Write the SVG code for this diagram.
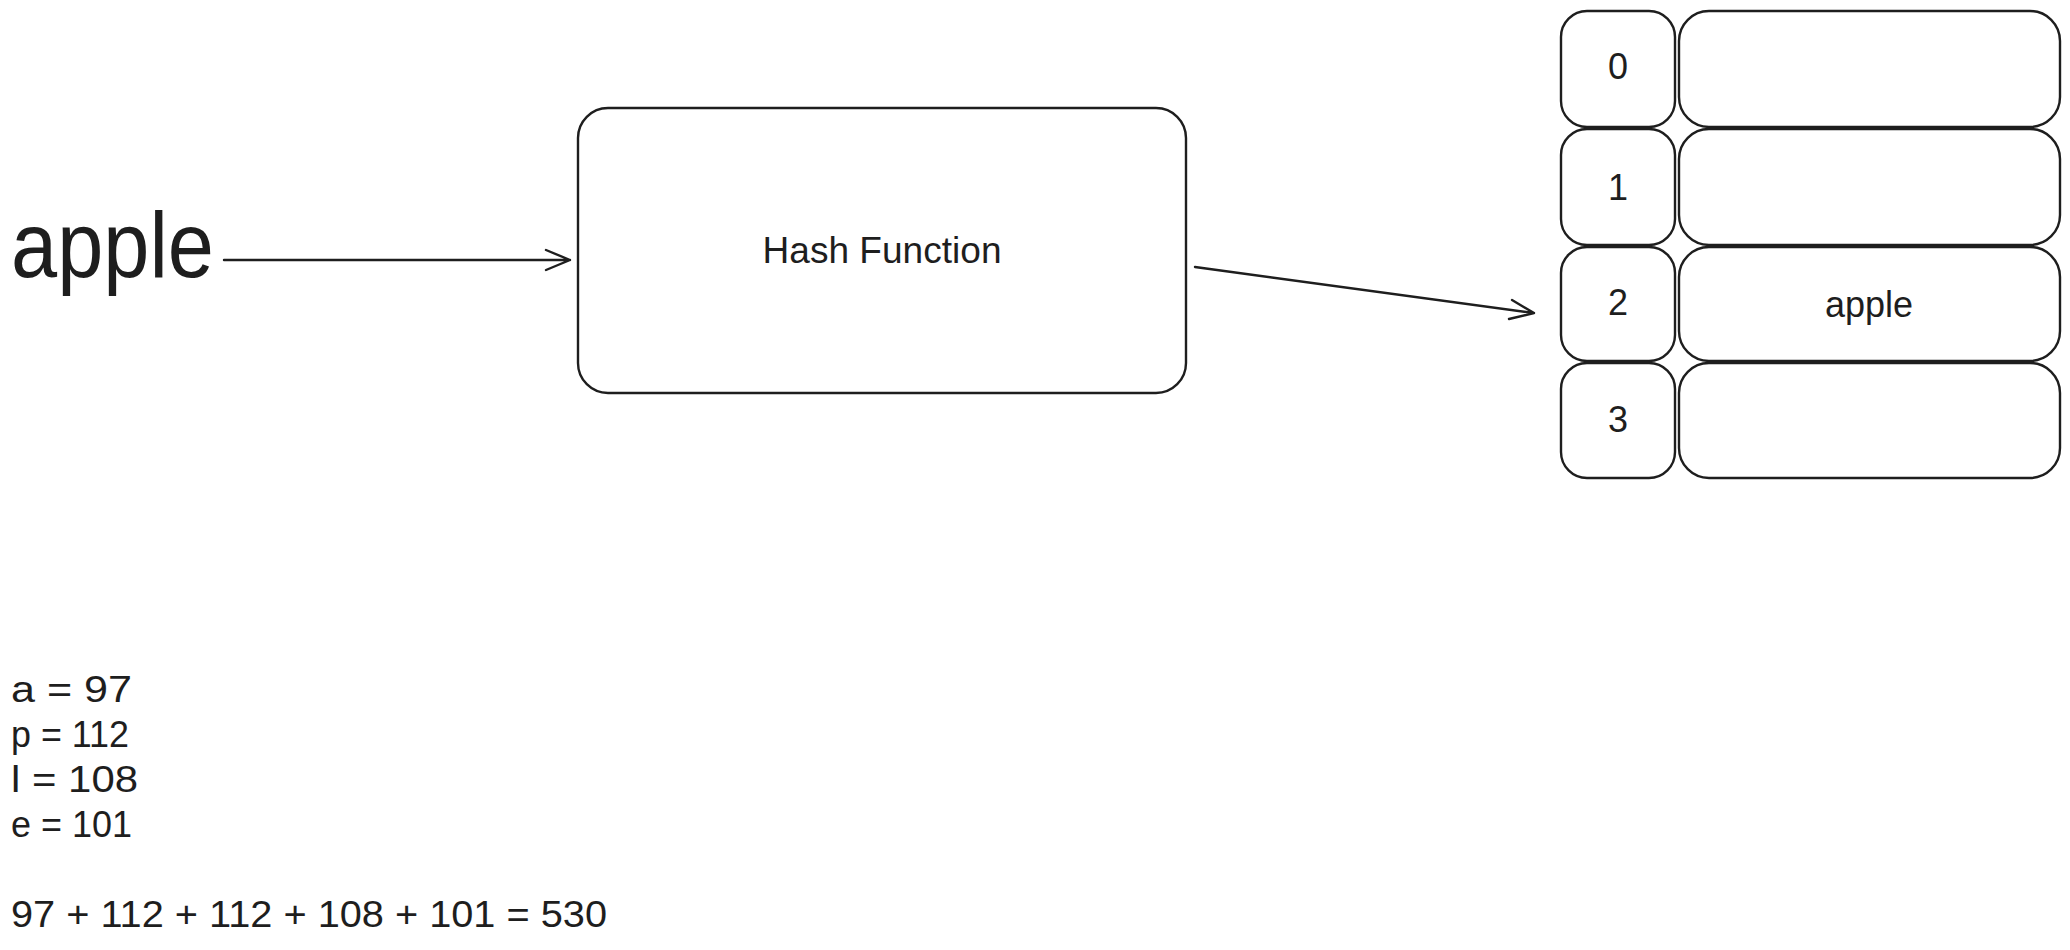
<svg xmlns="http://www.w3.org/2000/svg" width="2070" height="950" viewBox="0 0 2070 950">
<style>
.box{fill:#ffffff;stroke:#1e1e1e;stroke-width:2.4}
.t{font-family:"Liberation Sans",Arial,sans-serif;font-size:36px;fill:#1e1e1e}
.big{font-size:92px}
.c{text-anchor:middle;dominant-baseline:central}
.con{fill:none;stroke:#1e1e1e;stroke-width:2.4;stroke-linecap:round;stroke-linejoin:round}
</style>
<rect width="2070" height="950" fill="#ffffff"/>
<g id="input">
<text class="t big" x="11" y="277" textLength="203" lengthAdjust="spacingAndGlyphs">apple</text>
</g>
<g id="hash">
<rect class="box" x="578" y="108" width="608" height="285" rx="30"/>
<text class="t c" x="882" y="250" textLength="239" lengthAdjust="spacingAndGlyphs">Hash Function</text>
</g>
<g id="row0">
<rect class="box" x="1561" y="11" width="114" height="116" rx="26"/>
<text class="t c" x="1618" y="66">0</text>
<rect class="box" x="1679" y="11" width="381" height="116" rx="30"/>
</g>
<g id="row1">
<rect class="box" x="1561" y="129" width="114" height="116" rx="26"/>
<text class="t c" x="1618" y="187">1</text>
<rect class="box" x="1679" y="129" width="381" height="116" rx="30"/>
</g>
<g id="row2">
<rect class="box" x="1561" y="247" width="114" height="114" rx="26"/>
<text class="t c" x="1618" y="302">2</text>
<rect class="box" x="1679" y="247" width="381" height="114" rx="30"/>
<text class="t c" x="1869" y="304">apple</text>
</g>
<g id="row3">
<rect class="box" x="1561" y="363" width="114" height="115" rx="26"/>
<text class="t c" x="1618" y="419">3</text>
<rect class="box" x="1679" y="363" width="381" height="115" rx="30"/>
</g>
<g id="notes">
<text class="t" x="11" y="702" textLength="121" lengthAdjust="spacingAndGlyphs">a = 97</text>
<text class="t" x="11" y="747" textLength="118" lengthAdjust="spacingAndGlyphs">p = 112</text>
<text class="t" x="11" y="792" textLength="127" lengthAdjust="spacingAndGlyphs">l = 108</text>
<text class="t" x="11" y="837" textLength="121" lengthAdjust="spacingAndGlyphs">e = 101</text>
<text class="t" x="11" y="927" textLength="596" lengthAdjust="spacingAndGlyphs">97 + 112 + 112 + 108 + 101 = 530</text>
</g>
<g id="connectors">
<path class="con" d="M224 260 L570 260 M546 250 L570 260 L546 270"/>
<path class="con" d="M1195 267 L1534 313 M1512 300 L1534 313 L1509 319"/>
</g>
</svg>
